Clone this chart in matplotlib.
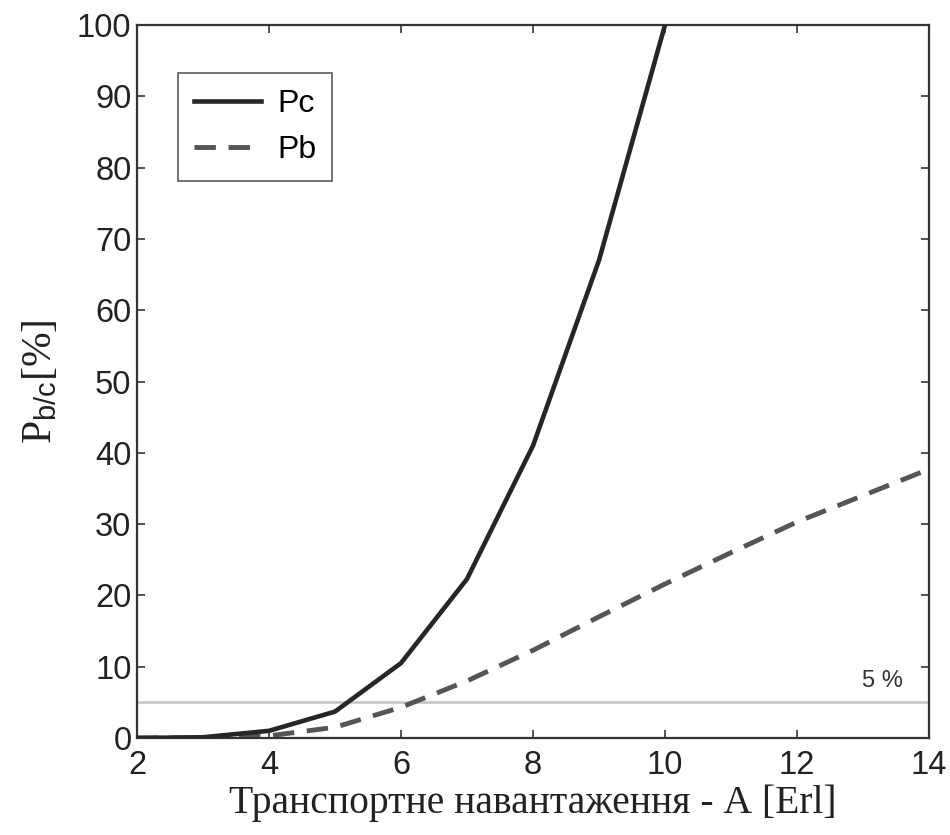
import matplotlib
matplotlib.use("Agg")
import matplotlib.pyplot as plt

# Data
load_pc = [2, 3, 4, 5, 6, 7, 8, 9, 10]
pc_values = [0.0, 0.1, 1.0, 3.7, 10.5, 22.3, 41.0, 67.0, 100.0]
load_pb = [2, 3, 4, 5, 6, 7, 8, 9, 10, 11, 12, 13, 14]
pb_values = [0.0, 0.02, 0.3, 1.5, 4.3, 8.0, 12.3, 17.0, 21.6, 26.0, 30.3, 34.0, 37.7]
threshold = 5
x_ticks = [2, 4, 6, 8, 10, 12, 14]
y_ticks = [0, 10, 20, 30, 40, 50, 60, 70, 80, 90, 100]

plt.rcParams['mathtext.fontset'] = 'custom'
plt.rcParams['mathtext.rm'] = 'Liberation Serif'
plt.rcParams['mathtext.sf'] = 'Liberation Sans'
plt.rcParams['mathtext.it'] = 'Liberation Serif:italic'

fig = plt.figure(figsize=(9.5, 8.35), dpi=100)
ax = fig.add_axes([0.1442, 0.1162, 0.9779 - 0.1442, 0.970 - 0.1162])

ax.axhline(threshold, color='#c4c4c4', lw=1.8, zorder=1)
ax.plot(load_pc, pc_values, color='#262626', lw=3.3, label='Pc', zorder=3)
ax.plot(load_pb, pb_values, color='#555555', lw=3.5, dashes=(4.4, 2.6), label='Pb', zorder=2)

ax.text(13.3, 6.5, '5 %', fontsize=17, family='Liberation Sans', color='#333333', ha='center', va='bottom')

ax.set_xlim(2, 14)
ax.set_ylim(0, 100)
ax.set_xticks(x_ticks)
ax.set_yticks(y_ticks)
ax.tick_params(direction='in', top=True, right=True, length=6, width=1.2, colors='#333333',
               labelsize=23.5, labelcolor='#222222')
for lbl in ax.get_xticklabels() + ax.get_yticklabels():
    lbl.set_family('Liberation Sans')
ax.tick_params(axis='x', pad=9)
ax.tick_params(axis='y', pad=4)
for s in ax.spines.values():
    s.set_linewidth(1.6)
    s.set_color('#333333')

ax.set_xlabel('Транспортне навантаження - А [Erl]', fontsize=28.5, family='Liberation Serif',
              color='#222222', labelpad=2)
ax.set_ylabel(r'P$_{\mathsf{b/c}}$[%]', fontsize=30, family='Liberation Serif',
              color='#222222', labelpad=12)

leg = ax.legend(loc='upper left', bbox_to_anchor=(0.052, 0.933), borderaxespad=0,
                frameon=True, fancybox=False, edgecolor='#333333', handlelength=2.1,
                handletextpad=0.5, borderpad=0.5, labelspacing=0.5,
                prop={'family': 'Liberation Sans', 'size': 23})
leg.get_frame().set_linewidth(1.2)

fig.savefig('out.png', dpi=100, facecolor='white')
